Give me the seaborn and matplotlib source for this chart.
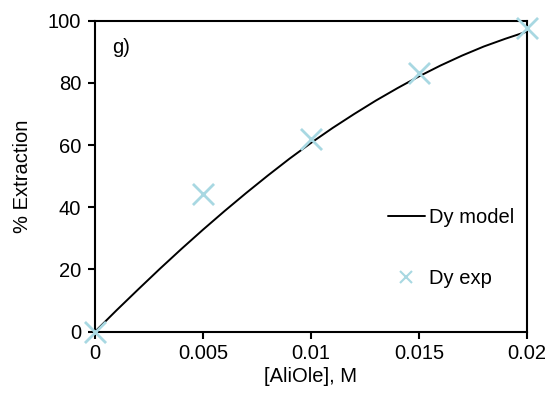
import matplotlib
matplotlib.use("Agg")
import matplotlib.pyplot as plt
import seaborn as sns
import pandas as pd
from matplotlib.lines import Line2D

# Model curve for Dy extraction vs. extractant concentration
model_conc = [0.000, 0.001, 0.002, 0.003, 0.004, 0.005, 0.006, 0.007, 0.008, 0.009, 0.010,
              0.011, 0.012, 0.013, 0.014, 0.015, 0.016, 0.017, 0.018, 0.019, 0.020]
model_ext = [0.0, 6.9, 13.6, 20.2, 26.6, 32.8, 38.8, 44.6, 50.2, 55.6, 60.7,
             65.5, 70.0, 74.3, 78.3, 82.1, 85.6, 88.8, 91.7, 94.2, 96.5]

# Experimental points
exp_conc = [0.0, 0.005, 0.010, 0.015, 0.020]
exp_ext = [0.0, 44.4, 61.9, 83.1, 97.6]

x_ticks = [0, 0.005, 0.01, 0.015, 0.02]
x_tick_labels = ["0", "0.005", "0.01", "0.015", "0.02"]
y_ticks = [0, 20, 40, 60, 80, 100]

sns.set_theme(style="ticks")
plt.rcParams["font.family"] = ["Liberation Sans", "DejaVu Sans"]
plt.rcParams["text.color"] = "black"
plt.rcParams["axes.labelcolor"] = "black"
plt.rcParams["xtick.color"] = "black"
plt.rcParams["ytick.color"] = "black"

fig = plt.figure(figsize=(5.51, 3.98), dpi=100)
ax = fig.add_axes([0.1724, 0.1666, 0.7840, 0.7814])

model_df = pd.DataFrame({"conc": model_conc, "ext": model_ext})
exp_df = pd.DataFrame({"conc": exp_conc, "ext": exp_ext})

exp_color = "#a8d8e2"

sns.lineplot(data=model_df, x="conc", y="ext", ax=ax, color="black",
             linewidth=1.4, zorder=3)
sns.scatterplot(data=exp_df, x="conc", y="ext", ax=ax, marker="x",
                s=230, color=exp_color, linewidth=2.0, zorder=4, clip_on=False)

ax.set_xlim(0, 0.02)
ax.set_ylim(0, 100)
ax.set_xticks(x_ticks)
ax.set_xticklabels(x_tick_labels)
ax.set_yticks(y_ticks)

for side in ["left", "bottom", "top", "right"]:
    ax.spines[side].set_visible(True)
    ax.spines[side].set_linewidth(1.5)
    ax.spines[side].set_color("black")

ax.tick_params(axis="both", direction="out", length=5, width=1.5,
               labelsize=14.5, colors="black", pad=4)
ax.tick_params(axis="y", pad=5)

ax.set_xlabel("[AliOle], M", fontsize=14.5, labelpad=3, color="black")
ax.set_ylabel("% Extraction", fontsize=14.5, labelpad=11, color="black")

ax.text(0.04, 0.915, "g)", transform=ax.transAxes, fontsize=14.5,
        va="center", ha="left", color="black")

handles = [
    Line2D([], [], color="black", linewidth=1.4),
    Line2D([], [], color=exp_color, marker="x", linestyle="none",
           markersize=8, markeredgewidth=1.5),
]
leg = ax.legend(handles, ["Dy model", "Dy exp"], frameon=False, fontsize=14.5,
                loc="center left", bbox_to_anchor=(0.637, 0.269),
                labelspacing=2.1, handlelength=1.8, handletextpad=0.2)
for t in leg.get_texts():
    t.set_color("black")

fig.savefig("out.png", dpi=100)
